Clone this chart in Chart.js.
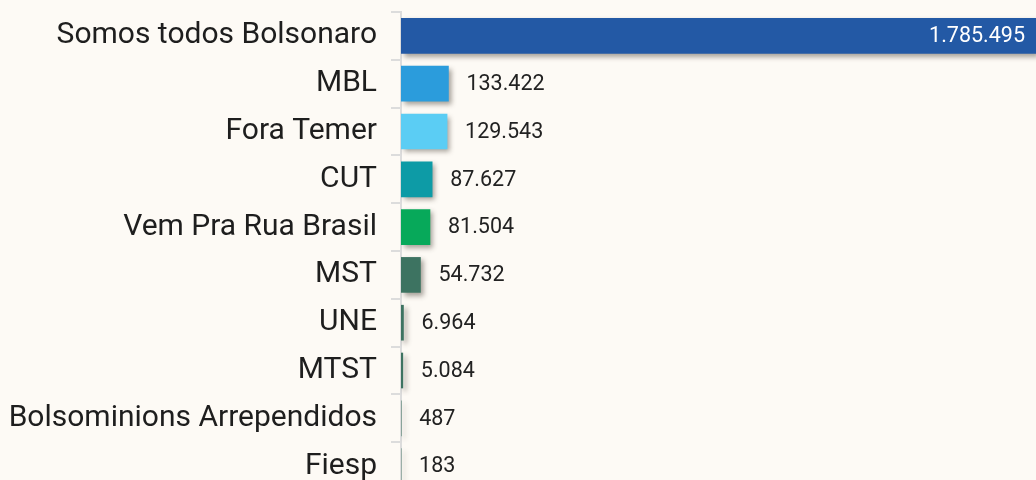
<!DOCTYPE html>
<html>
<head>
<meta charset="utf-8">
<script src="https://cdn.jsdelivr.net/npm/chart.js@4.4.1/dist/chart.umd.min.js"></script>
<style>
  html, body { margin: 0; padding: 0; background: #fdfaf5; overflow: hidden; }
  #wrap { width: 1036px; height: 490px; position: relative; }
</style>
</head>
<body>
<div id="wrap"><canvas id="chart"></canvas></div>
<script>
const categories = ['Somos todos Bolsonaro', 'MBL', 'Fora Temer', 'CUT', 'Vem Pra Rua Brasil',
  'MST', 'UNE', 'MTST', 'Bolsominions Arrependidos', 'Fiesp'];
const followers = [1785495, 133422, 129543, 87627, 81504, 54732, 6964, 5084, 487, 183];
const barColors = ['#2359a5', '#2b9cdc', '#5bcdf4', '#0d9ba6', '#07a95a', '#3d7361',
  '#3d7361', '#3d7361', '#3d7361', '#3d7361'];

// 1785495 -> "1.785.495"
function fmt(n) {
  return String(n).replace(/\B(?=(\d{3})+(?!\d))/g, '.');
}

const shadowPlugin = {
  id: 'barShadow',
  beforeDatasetDraw(chart) {
    const ctx = chart.ctx;
    ctx.save();
    ctx.shadowColor = 'rgba(60,50,40,0.45)';
    ctx.shadowBlur = 5;
    ctx.shadowOffsetX = 3;
    ctx.shadowOffsetY = 3;
  },
  afterDatasetDraw(chart) {
    chart.ctx.restore();
  }
};

const valueLabels = {
  id: 'valueLabels',
  afterDatasetsDraw(chart) {
    const ctx = chart.ctx;
    const meta = chart.getDatasetMeta(0);
    ctx.save();
    ctx.font = '21.5px Roboto';
    ctx.textBaseline = 'middle';
    meta.data.forEach((bar, i) => {
      const txt = fmt(followers[i]);
      if (i === 0) {
        ctx.fillStyle = '#ffffff';
        ctx.textAlign = 'right';
        ctx.fillText(txt, bar.x - 11, bar.y + 1);
      } else {
        ctx.fillStyle = '#222222';
        ctx.textAlign = 'left';
        ctx.fillText(txt, bar.x + 18, bar.y + 1);
      }
    });
    ctx.restore();
  }
};

new Chart(document.getElementById('chart'), {
  type: 'bar',
  data: {
    labels: categories,
    datasets: [{
      data: followers,
      backgroundColor: barColors,
      borderWidth: 0,
      barThickness: 35
    }]
  },
  options: {
    indexAxis: 'y',
    responsive: true,
    maintainAspectRatio: false,
    animation: false,
    layout: { padding: { top: 12, bottom: 0, right: 0, left: 0 } },
    plugins: {
      legend: { display: false },
      tooltip: { enabled: false }
    },
    scales: {
      x: {
        display: false,
        min: 0,
        max: 1785495
      },
      y: {
        afterFit(scale) {
          scale.width = 401;
          scale.paddingTop = 0;
          scale.paddingBottom = 0;
        },
        border: { display: true, color: '#dcdcdc', width: 2 },
        grid: { drawOnChartArea: false, color: '#dcdcdc', lineWidth: 2, tickLength: 10 },
        ticks: {
          color: '#1e1e1e',
          font: { family: 'Roboto', size: 30 },
          padding: 14
        }
      }
    }
  },
  plugins: [shadowPlugin, valueLabels]
});
</script>
</body>
</html>
